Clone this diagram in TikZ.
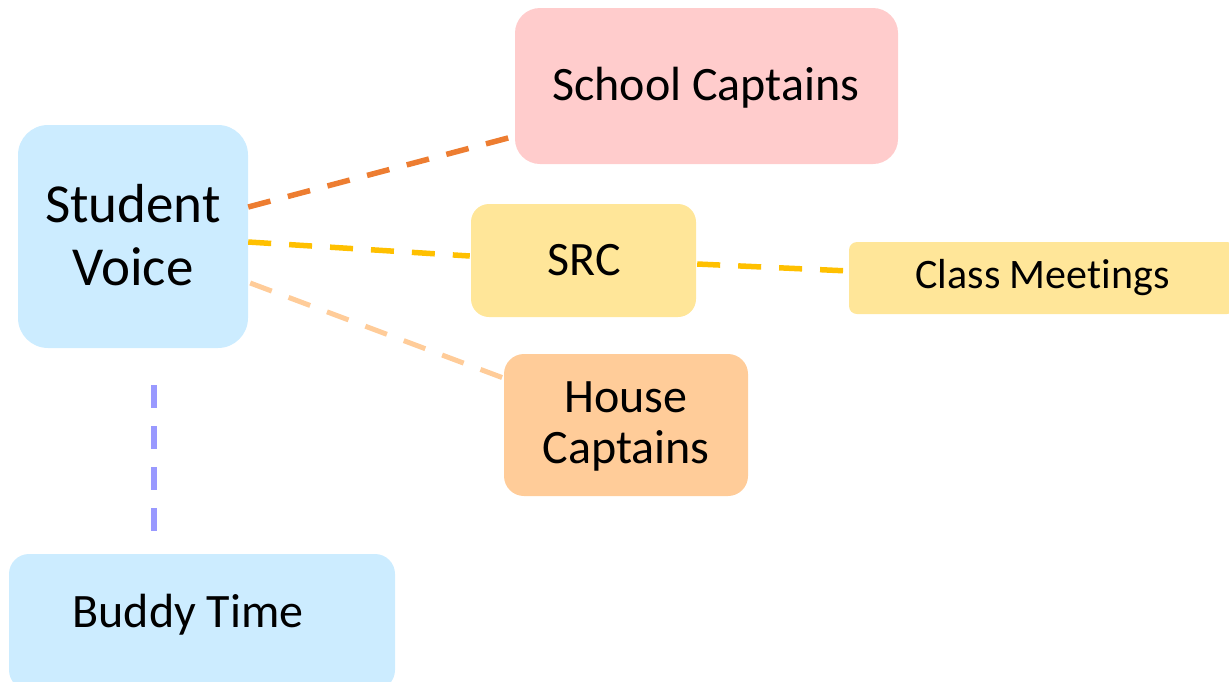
\documentclass[tikz,border=0pt]{standalone}
\usepackage{fontspec}
\setmainfont{Carlito}[Ligatures=NoCommon]
\definecolor{cblue}{HTML}{CCECFF}
\definecolor{cpink}{HTML}{FFCCCC}
\definecolor{cyellow}{HTML}{FFE699}
\definecolor{corange}{HTML}{FFCC99}
\definecolor{lorange}{HTML}{ED7D31}
\definecolor{lyellow}{HTML}{FFC000}
\definecolor{llorange}{HTML}{FFCC99}
\definecolor{llav}{HTML}{9999FF}
\begin{document}
\begin{tikzpicture}[x=1pt,y=-1pt,
  box/.style={inner sep=0pt,draw=none},
  txt/.style={inner sep=0pt,anchor=base,align=center},
  conn/.style={line width=5.5pt,dash pattern=on 23pt off 18pt}]
\useasboundingbox (0,0) rectangle (1229,681);
\begin{scope}
\clip (0,0) rectangle (1229,681);
\node[box,fill=cblue,rounded corners=30pt,minimum width=230pt,minimum height=223pt] (sv) at (133,236.5) {};
\node[box,fill=cpink,rounded corners=25pt,minimum width=383pt,minimum height=156pt] (sc) at (706.5,86) {};
\node[box,fill=cyellow,rounded corners=18pt,minimum width=225pt,minimum height=113pt] (src) at (583.5,260.5) {};
\node[box,fill=cyellow,rounded corners=8pt,minimum width=386pt,minimum height=72pt] (cm) at (1042,278) {};
\node[box,fill=corange,rounded corners=20pt,minimum width=244pt,minimum height=142pt] (hc) at (626,425) {};
\node[box,fill=cblue,rounded corners=20pt,minimum width=386pt,minimum height=136pt] (bt) at (202,622) {};
\node[txt,font=\fontsize{55}{63}\selectfont] (svt) at (133,285) {Student\\Voice};
\node[txt,font=\fontsize{48}{56}\selectfont] (sct) at (706,100) {School Captains};
\node[txt,font=\fontsize{48}{56}\selectfont] (srct) at (584.5,275) {SRC};
\node[txt,font=\fontsize{42}{50}\selectfont] (cmt) at (1042.5,288) {Class Meetings};
\node[txt,font=\fontsize{48}{51}\selectfont] (hct) at (626,463) {House\\Captains};
\node[txt,font=\fontsize{48}{56}\selectfont] (btt) at (188,627) {Buddy Time};
\end{scope}
\coordinate (lt) at (154,385);
\coordinate (lb) at (154,535);
\draw[conn,lorange] ([yshift=29.5pt]sv.east) -- ([yshift=28pt]sc.south west);
\draw[conn,lyellow] ([yshift=-5.5pt]sv.east) -- ([xshift=-1pt,yshift=4.5pt]src.west);
\draw[conn,lyellow] ([xshift=1pt,yshift=-3.5pt]src.east) -- ([yshift=7pt]cm.west);
\draw[conn,llorange,line width=5pt] ([xshift=2pt,yshift=-46.5pt]sv.east) -- ([xshift=-1pt,yshift=-24pt]hc.north west);
\draw[conn,llav] (lt) -- (lb);
\end{tikzpicture}
\end{document}
